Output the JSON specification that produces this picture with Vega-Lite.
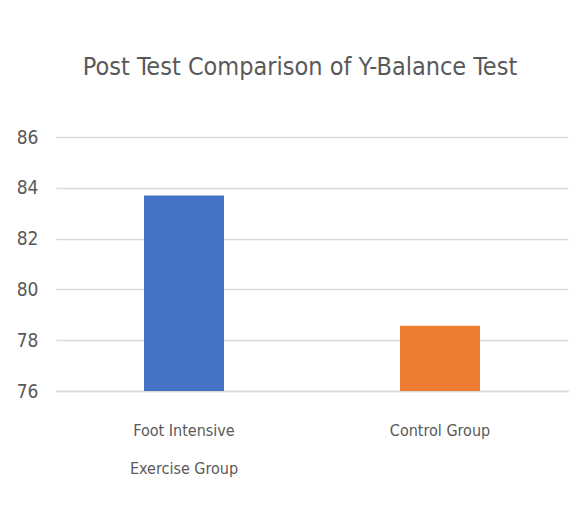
{
  "$schema": "https://vega.github.io/schema/vega-lite/v6.json",
  "autosize": "none",
  "width": 512,
  "height": 254,
  "padding": {"left": 56, "top": 137, "right": 16, "bottom": 117},
  "background": "white",
  "config": {"view": {"stroke": null}, "font": "DejaVu Sans Condensed"},
  "title": {
    "text": "Post Test Comparison of Y-Balance Test",
    "fontSize": 25,
    "fontWeight": "normal",
    "color": "#595959",
    "font": "DejaVu Sans Condensed",
    "anchor": "middle",
    "dx": -12,
    "offset": 48
  },
  "data": {
    "values": [
      {"group": "Foot Intensive Exercise Group", "value": 83.7},
      {"group": "Control Group", "value": 78.57}
    ]
  },
  "mark": {"type": "bar", "clip": true},
  "encoding": {
    "x": {
      "field": "group",
      "type": "nominal",
      "sort": null,
      "scale": {"paddingInner": 0.6875, "paddingOuter": 0.34375},
      "axis": {
        "title": null,
        "labelAngle": 0,
        "ticks": false,
        "domainColor": "#d9d9d9",
        "domainWidth": 1.5,
        "labelFontSize": 16,
        "labelColor": "#595959",
        "labelPadding": 31,
        "labelLineHeight": 38,
        "labelBaseline": "top",
        "labelLimit": 300,
        "labelExpr": "datum.label == 'Foot Intensive Exercise Group' ? ['Foot Intensive', 'Exercise Group'] : datum.label"
      }
    },
    "y": {
      "field": "value",
      "type": "quantitative",
      "scale": {"domain": [76, 86], "zero": false, "nice": false},
      "axis": {
        "title": null,
        "values": [76, 78, 80, 82, 84, 86],
        "domain": false,
        "ticks": false,
        "gridColor": "#d9d9d9",
        "gridWidth": 1.5,
        "labelFontSize": 19,
        "labelColor": "#595959",
        "labelPadding": 18
      }
    },
    "color": {
      "field": "group",
      "type": "nominal",
      "sort": null,
      "scale": {"range": ["#4472C4", "#ED7D31"]},
      "legend": null
    }
  }
}
